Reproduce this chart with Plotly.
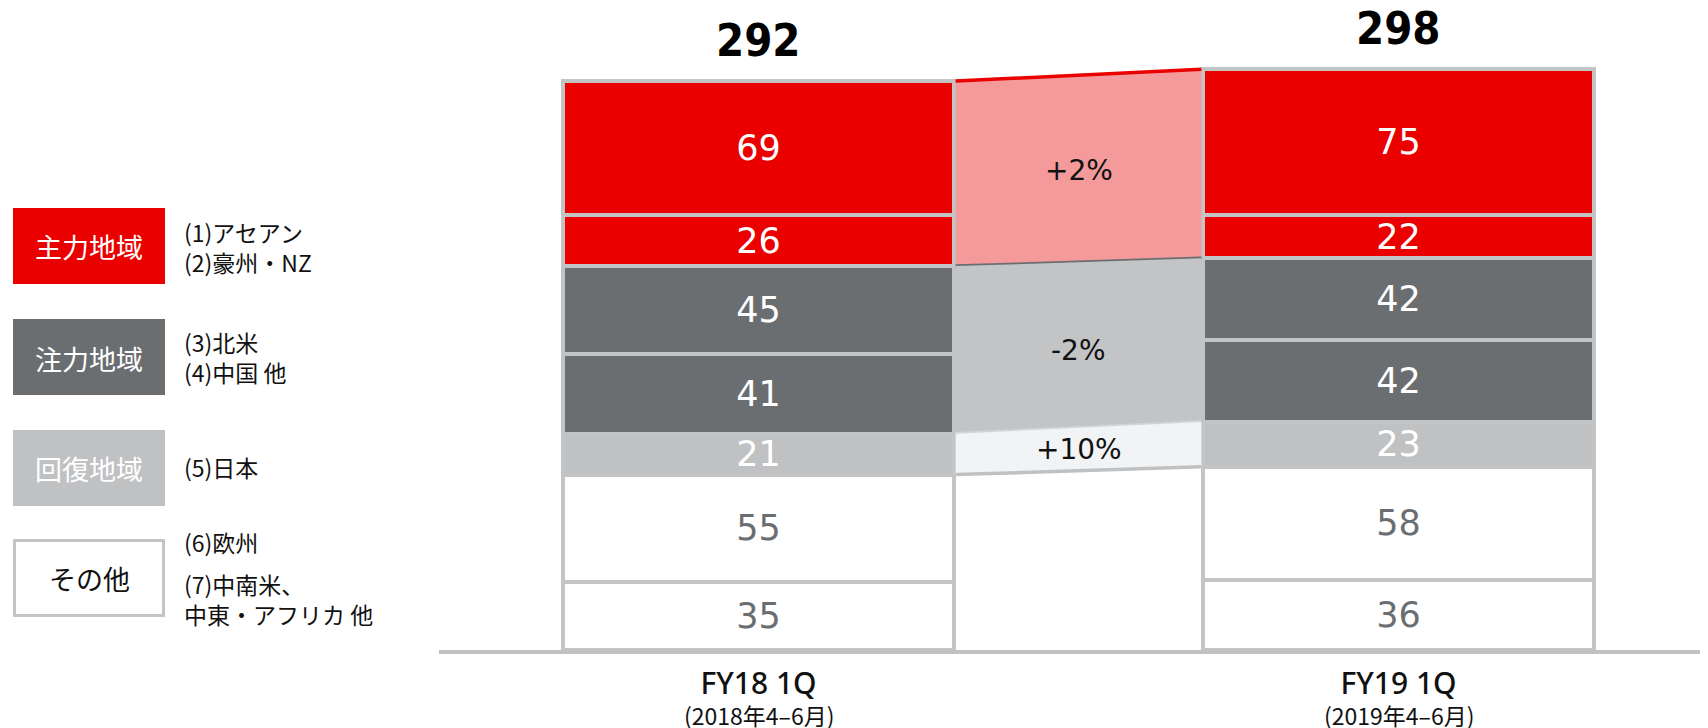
import plotly.graph_objects as go

# ---------------- data ----------------
categories = ["FY18 1Q", "FY19 1Q"]
periods = ["(2018年4–6月)", "(2019年4–6月)"]

# stacked from bottom to top
latam_mea_other = [35, 36]   # (7) 中南米、中東・アフリカ 他
europe = [55, 58]            # (6) 欧州
japan = [21, 23]             # (5) 日本
china_other = [41, 42]       # (4) 中国 他
north_america = [45, 42]     # (3) 北米
australia_nz = [26, 22]      # (2) 豪州・NZ
asean = [69, 75]             # (1) アセアン
totals = [292, 298]

band_changes = ["+2%", "-2%", "+10%"]   # 主力地域, 注力地域, 回復地域

legend_boxes = ["主力地域", "注力地域", "回復地域", "その他"]
legend_blocks = [["(1)アセアン<br>(2)豪州・NZ"],
                 ["(3)北米<br>(4)中国 他"],
                 ["(5)日本"],
                 ["(6)欧州", "(7)中南米、<br>中東・アフリカ 他"]]

# ---------------- style ----------------
OFF = 8                      # default page body margin
W, H = 1708 - OFF, 728 - OFF
RED = "#eb0000"
DARK = "#6b6e71"
LIGHT = "#bfc1c3"
OUTLINE = "#c2c4c6"
PINK = "#f59a9a"
BAND_GRAY = "#c3c4c6"
BAND_LIGHT = "#f2f3f5"
FONT = "DejaVu Sans"
CJK = "Noto Sans CJK JP"

BW = 0.61  # bar width in category units
PX_PER_UNIT_X = 640.0
X_LEFT_PX, BAR0_CENTER_PX = 439 - OFF, 758.5 - OFF
x_min = (X_LEFT_PX - BAR0_CENTER_PX) / PX_PER_UNIT_X
x_max = (W - BAR0_CENTER_PX) / PX_PER_UNIT_X
AXIS_PX = 650 - OFF
y_top = AXIS_PX / (569.0 / 292.0)


def px(x):
    return (x - OFF) / W


def py(y):
    return 1 - (y - OFF) / H


segments = [
    (latam_mea_other, "white", DARK),
    (europe, "white", DARK),
    (japan, LIGHT, "white"),
    (china_other, DARK, "white"),
    (north_america, DARK, "white"),
    (australia_nz, RED, "white"),
    (asean, RED, "white"),
]

fig = go.Figure()


# ---- connector bands between the bars ----
def cum(upto):
    return [sum(s[0][i] for s in segments[:upto]) for i in range(2)]


bx0 = BW / 2 + 0.003
bx1 = 1 - BW / 2 - 0.003
bands = [
    (cum(5), cum(7), PINK, RED, DARK),             # 主力地域
    (cum(3), cum(5), BAND_GRAY, None, "#d2d4d6"),  # 注力地域
    (cum(2), cum(3), BAND_LIGHT, None, LIGHT),     # 回復地域
]
band_shift = [-2, -5, 0]
for k, (lo, hi, fillc, topc, botc) in enumerate(bands):
    fig.add_trace(go.Scatter(
        x=[bx0, bx1, bx1, bx0, bx0], y=[lo[0], lo[1], hi[1], hi[0], lo[0]],
        fill="toself", fillcolor=fillc, mode="lines", line=dict(width=0),
        hoverinfo="skip", showlegend=False))
    if topc:
        fig.add_trace(go.Scatter(x=[bx0, bx1], y=[hi[0], hi[1]], mode="lines",
                                 line=dict(color=topc, width=3.5), hoverinfo="skip", showlegend=False))
    if botc:
        fig.add_trace(go.Scatter(x=[bx0, bx1], y=[lo[0], lo[1]], mode="lines",
                                 line=dict(color=botc, width=3.5), hoverinfo="skip", showlegend=False))
    fig.add_annotation(x=0.5, y=(lo[0] + lo[1] + hi[0] + hi[1]) / 4, xref="x", yref="y",
                       text=band_changes[k], showarrow=False, yshift=band_shift[k],
                       font=dict(family=FONT, size=28, color="#111111"))

# ---- stacked bars ----
for vals, color, tcolor in segments:
    fig.add_trace(go.Bar(
        x=[0, 1], y=vals, width=[BW, BW], text=[str(v) for v in vals],
        textposition="inside", insidetextanchor="middle", textangle=0,
        textfont=dict(family=FONT, size=35, color=tcolor),
        marker=dict(color=color, line=dict(color=OUTLINE, width=4)),
        hoverinfo="skip", showlegend=False))

# ---- totals ----
for i, t in enumerate(totals):
    fig.add_annotation(x=i, y=t, xref="x", yref="y", text=str(t), showarrow=False,
                       yanchor="middle", yshift=41,
                       font=dict(family="DejaVu Sans Condensed, DejaVu Sans", size=45,
                                 color="black", weight="bold"))

# ---- period subtitles under the tick labels ----
for i, p in enumerate(periods):
    fig.add_annotation(x=i, y=py(715), xref="x", yref="paper", text=p, showarrow=False,
                       yanchor="middle", font=dict(family=CJK, size=23, color="#111111"))

# ---- legend (left side) ----
box_tops = [208, 319, 430, 539]
box_fill = [RED, DARK, LIGHT, "white"]
box_text_color = ["white", "white", "white", "#111111"]
block_y = [[246.5], [357.5], [467], [542, 598.5]]
for k, name in enumerate(legend_boxes):
    y0, y1 = box_tops[k], box_tops[k] + 76
    if box_fill[k] == "white":
        fig.add_shape(type="rect", xref="paper", yref="paper",
                      x0=px(14.5), x1=px(163.5), y0=py(y0 + 1.5), y1=py(y1 + 0.5),
                      fillcolor="white", line=dict(color=OUTLINE, width=3))
    else:
        fig.add_shape(type="rect", xref="paper", yref="paper",
                      x0=px(13), x1=px(165), y0=py(y0), y1=py(y1),
                      fillcolor=box_fill[k], line=dict(width=0))
    fig.add_annotation(x=px(89), y=py((y0 + y1) / 2 + 1), xref="paper", yref="paper",
                       text=name, showarrow=False, xanchor="center", yanchor="middle",
                       font=dict(family=CJK, size=27, color=box_text_color[k]))
    for txt, yy in zip(legend_blocks[k], block_y[k]):
        fig.add_annotation(x=px(182), y=py(yy), xref="paper", yref="paper",
                           text=txt, showarrow=False, xanchor="left", yanchor="middle",
                           align="left",
                           font=dict(family=CJK, size=23, color="#111111"))

fig.update_layout(
    width=W, height=H,
    margin=dict(l=0, r=0, t=0, b=0),
    paper_bgcolor="white", plot_bgcolor="white",
    barmode="stack",
    uniformtext=dict(mode="show", minsize=35),
    xaxis=dict(domain=[X_LEFT_PX / W, 1], range=[x_min, x_max],
               showline=True, linecolor=LIGHT, linewidth=4,
               showgrid=False, zeroline=False, ticks="",
               tickvals=[0, 1], ticktext=categories, ticklabelstandoff=4,
               tickfont=dict(family="Noto Sans", size=30, color="#111111", weight=500),
               fixedrange=True),
    yaxis=dict(domain=[(H - AXIS_PX) / H, 1], range=[0, y_top], visible=False,
               fixedrange=True),
)

fig.write_html("out.html")
